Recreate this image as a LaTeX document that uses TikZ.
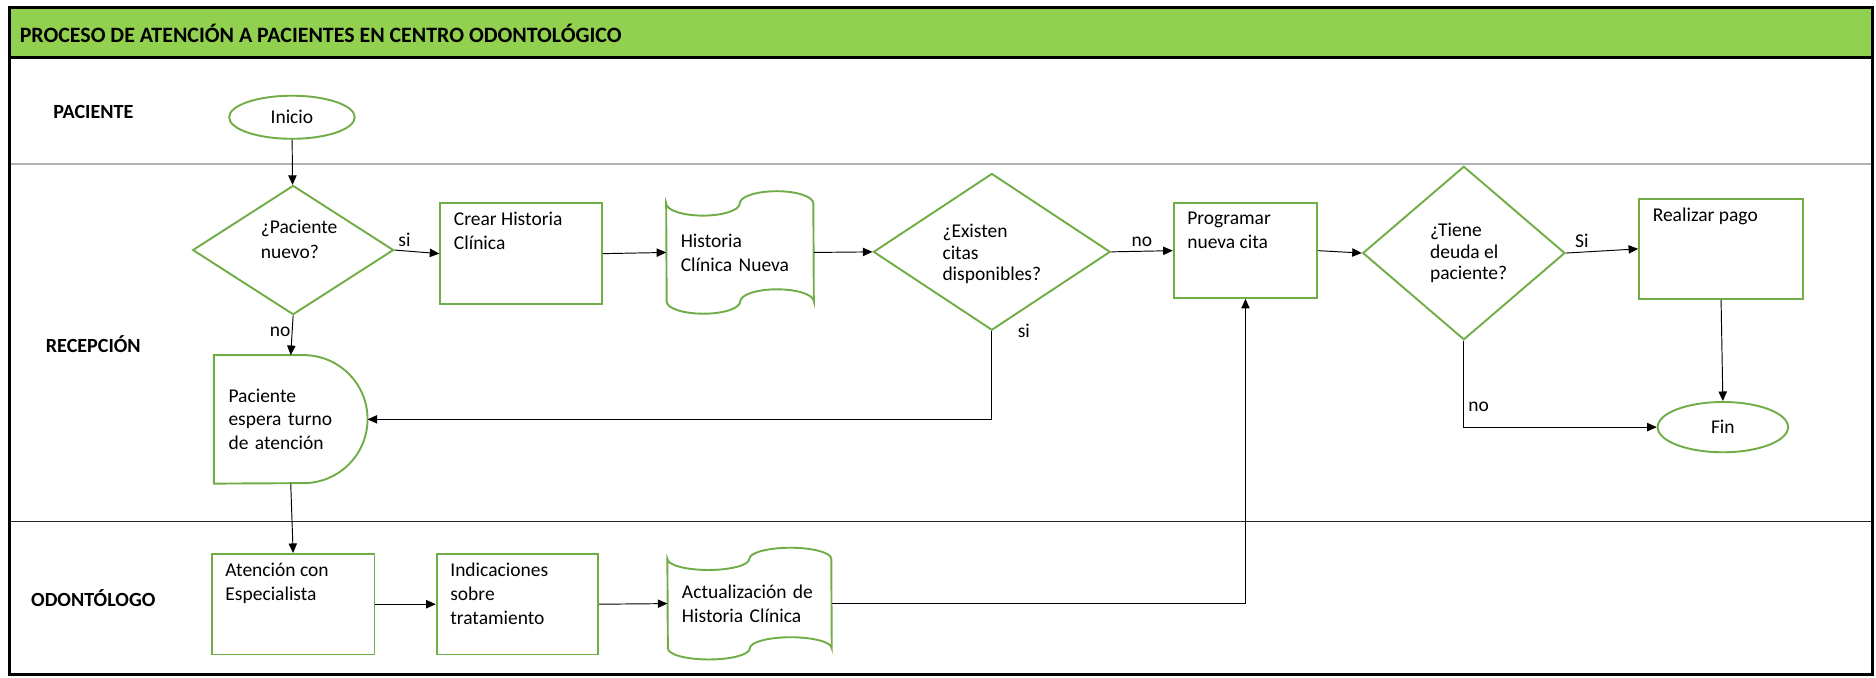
\documentclass[tikz,border=0pt]{standalone}
\usepackage{fontspec}
\setmainfont{Carlito}
\usetikzlibrary{positioning,arrows.meta,shapes.geometric,calc}
\definecolor{lgreen}{HTML}{70AD47}
\definecolor{tgreen}{HTML}{92D050}
% punched tape outline round a node: name, quarter width, tenth height
\newcommand\cinta[3]{%
  \draw[box] ($(#1.north west)+(0,#3)$)
    arc[start angle=180, end angle=360, x radius=#2pt, y radius=#3pt]
    arc[start angle=180, end angle=0, x radius=#2pt, y radius=#3pt]
    -- ($(#1.south east)+(0,-#3)$)
    arc[start angle=0, end angle=180, x radius=#2pt, y radius=#3pt]
    arc[start angle=0, end angle=-180, x radius=#2pt, y radius=#3pt] -- cycle;}

\begin{document}
\begin{tikzpicture}[x=1pt, y=-1pt, >={Triangle[length=8pt,width=7pt]},
  font=\fontsize{16.3}{20}\selectfont,
  box/.style={draw=lgreen, line width=1.6pt},
  proc/.style={box, rectangle, minimum width=135pt, minimum height=84pt},
  dec/.style={box, diamond, inner sep=0pt},
  dtxt/.style={align=left, font=\fontsize{16.3}{18}\selectfont},
  term/.style={box, ellipse, minimum width=105pt, minimum height=36pt},
  doc/.style={rectangle, align=left},
  lbl/.style={anchor=north west, align=left, inner sep=0pt, xshift=12pt, yshift=-8pt},
  lane/.style={font=\fontsize{16.8}{20}\selectfont\bfseries},
  flow/.style={->, line width=0.8pt}]
  \useasboundingbox (0,0) rectangle (1568,566);
  % frame and lanes
  \fill[tgreen] (8,6) rectangle (1565,48);
  \draw[gray!60, line width=1pt] (8,137) -- (1565,137);
  \draw[black!85, line width=1.2pt] (8,436) -- (1565,436);
  \draw[line width=2.2pt] (8,48) -- (1565,48);
  \draw[line width=2.2pt] (8,6) rectangle (1565,564);
  \node[anchor=west, font=\fontsize{18.3}{22}\selectfont\bfseries] (titulo) at (13,28) {PROCESO DE ATENCIÓN A PACIENTES EN CENTRO ODONTOLÓGICO};
  \node[lane] (lpac) at (78,94) {PACIENTE};
  \node[lane] (lrec) at (78,288) {RECEPCIÓN};
  \node[lane] (lodo) at (78,500) {ODONTÓLOGO};
  % paciente
  \node[term] (inicio) at (244,98) {Inicio};
  % recepcion
  \node[dec, minimum width=168pt, minimum height=108pt,
    label={[dtxt, font=\fontsize{16.3}{21}\selectfont, xshift=5pt, yshift=9pt]center:{¿Paciente\\nuevo?}}] (nuevo) at (245,209) {};
  \node[proc] (crear) at (435.5,212) {};
  \node[lbl] at (crear.north west) (crear-t) {Crear Historia\\Clínica};
  \node[doc, minimum width=123pt, minimum height=102pt, text width=99pt] (hist) at (618.5,211) {Historia\\Clínica Nueva};
  \cinta{hist}{30.75}{10.2}
  \node[dec, minimum width=198pt, minimum height=131pt,
    label={[dtxt, yshift=-2pt]center:{¿Existen\\citas\\disponibles?}}] (ex) at (829,210.5) {};
  \node[proc, minimum width=120pt, minimum height=79pt] (prog) at (1041,209.5) {};
  \node[lbl] at (prog.north west) (prog-t) {Programar\\nueva cita};
  \node[dec, minimum width=169pt, minimum height=145pt,
    label={[dtxt, xshift=4pt]center:{¿Tiene\\deuda el\\paciente?}}] (deuda) at (1223.5,211.5) {};
  \node[proc, minimum width=137pt] (pago) at (1438.5,208) {};
  \node[lbl] at (pago.north west) (pago-t) {Realizar pago};
  \node[term, minimum width=109pt, minimum height=42pt] (fin) at (1440,357) {Fin};
  % espera (delay)
  \node[minimum width=128pt, minimum height=107pt, text width=104pt, align=left] (espera) at (243,350.5) {Paciente\\espera turno\\de atención};
  \draw[box] (espera.north west) -- ($(espera.north east)+(-53.5,0)$)
    arc[start angle=90, end angle=-90, radius=53.5pt] -- (espera.south west) -- cycle;
  % odontologo
  \node[proc, minimum width=136pt] (aten) at (245,505) {};
  \node[lbl] at (aten.north west) (aten-t) {Atención con\\Especialista};
  \node[proc] (indic) at (432.5,505) {};
  \node[lbl] at (indic.north west) (indic-t) {Indicaciones\\sobre\\tratamiento};
  \node[doc, minimum width=137pt, minimum height=93pt, text width=113pt] (act) at (626.5,504.5) {Actualización de\\Historia Clínica};
  \cinta{act}{34.25}{9.3}
  % connectors
  \draw[flow] (inicio) -- (nuevo);
  \draw[flow] (nuevo.east) -- node[above, pos=0.22] {si} (crear.west);
  \draw[flow] (crear.east) -- (hist.west);
  \draw[flow] (hist.east) -- (ex.west);
  \draw[flow] (ex.east) -- node[above] {no} (prog.west);
  \draw[flow] (prog.east) -- (deuda.west);
  \draw[flow] (deuda.east) -- node[above, pos=0.22] {Si} (pago.west);
  \draw[flow] (pago.south) -- (fin.north);
  \draw[flow] (deuda.south) |- node[right, pos=0.38] {no} (fin.west);
  \draw[flow] (nuevo.south) -- node[left, pos=0.4, inner sep=1pt] {no} (espera.north);
  \draw[flow] (ex.south) |- node[right, pos=0.02, xshift=18pt, yshift=3pt] {si} (espera.east);
  \draw[flow] (espera.south) -- (aten.north);
  \draw[flow] (aten.east) -- (indic.west);
  \draw[flow] (indic.east) -- (act.west);
  \draw[flow] (act.east) -| (prog.south);
\end{tikzpicture}
\end{document}
